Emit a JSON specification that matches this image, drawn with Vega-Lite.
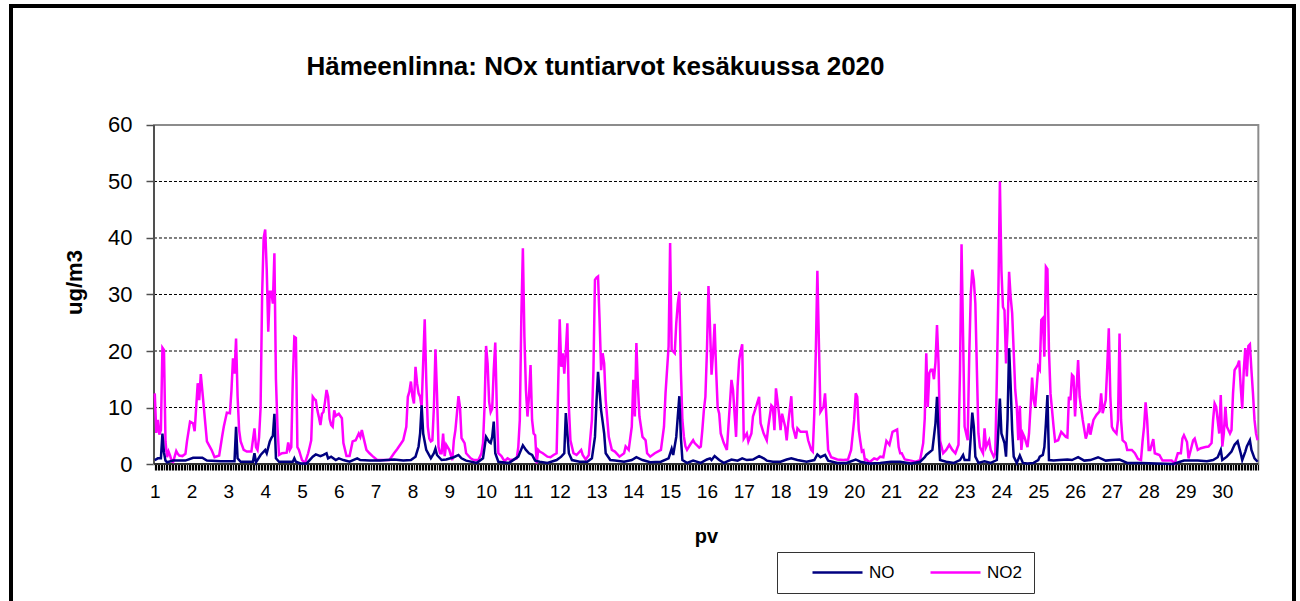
{
"$schema": "https://vega.github.io/schema/vega-lite/v6.json",
"width": 1283,
"height": 597,
"autosize": {"type": "none"},
"padding": {"left": 11, "top": 6, "right": 6, "bottom": 0},
"background": "white",
"config": {"view": {"stroke": "black", "strokeWidth": 4}, "font": "Liberation Sans"},
"title": {"text": "Hämeenlinna: NOx tuntiarvot kesäkuussa 2020", "font": "Liberation Sans", "fontSize": 26, "fontWeight": "bold", "color": "black", "anchor": "middle", "offset": -95, "baseline": "alphabetic", "dx": -57},
"datasets": {
"grid": [{"g": 10}, {"g": 20}, {"g": 30}, {"g": 40}, {"g": 50}],
"no2": [
{"h":0,"v":12.5},{"h":1,"v":5.5},{"h":2,"v":7.8},{"h":3,"v":5.2},{"h":4,"v":6},{"h":5,"v":20.6},{"h":6,"v":20.2},{"h":7,"v":4},{"h":8,"v":1.2},{"h":9,"v":2.2},{"h":10,"v":1.5},{"h":11,"v":0.5},{"h":12,"v":0.4},{"h":14,"v":2.3},{"h":15,"v":1.8},{"h":16,"v":1.5},{"h":18,"v":1.4},{"h":20,"v":1.8},{"h":21,"v":4},{"h":23,"v":7.5},{"h":25,"v":7.2},{"h":26,"v":5.8},{"h":28,"v":14.3},{"h":29,"v":11.3},{"h":30,"v":15.9},{"h":31,"v":13},{"h":33,"v":7},{"h":34,"v":4},{"h":37,"v":2.5},{"h":39,"v":1.2},{"h":42,"v":1.5},{"h":44,"v":5},{"h":45,"v":6.6},{"h":47,"v":9.1},{"h":49,"v":9},{"h":50,"v":13},{"h":51,"v":18.7},{"h":52,"v":16},{"h":53,"v":22.2},{"h":54,"v":12},{"h":55,"v":6},{"h":56,"v":4},{"h":58,"v":2.5},{"h":60,"v":2.2},{"h":63,"v":2.2},{"h":65,"v":6.3},{"h":66,"v":3},{"h":67,"v":2.5},{"h":68,"v":4.7},{"h":69,"v":10},{"h":70,"v":30},{"h":71,"v":40},{"h":72,"v":41.5},{"h":73,"v":34.4},{"h":74,"v":23.4},{"h":75,"v":30.5},{"h":76,"v":30.5},{"h":77,"v":28.4},{"h":78,"v":37.3},{"h":79,"v":15},{"h":80,"v":6.6},{"h":81,"v":1.6},{"h":83,"v":1.9},{"h":86,"v":2},{"h":87,"v":3.8},{"h":88,"v":2.5},{"h":89,"v":3},{"h":90,"v":15},{"h":91,"v":22.5},{"h":92,"v":22.3},{"h":93,"v":3},{"h":94,"v":2.5},{"h":96,"v":0.7},{"h":98,"v":0.2},{"h":100,"v":1.9},{"h":101,"v":3},{"h":102,"v":4.2},{"h":103,"v":11.9},{"h":104,"v":11.5},{"h":105,"v":11.3},{"h":106,"v":9.5},{"h":107,"v":8.3},{"h":108,"v":6.9},{"h":109,"v":8.9},{"h":110,"v":9.2},
{"h":111,"v":11},{"h":112,"v":13.1},{"h":113,"v":11.9},{"h":114,"v":8},{"h":115,"v":6.9},{"h":116,"v":6.6},{"h":117,"v":9.5},{"h":118,"v":8.5},{"h":119,"v":8.7},{"h":120,"v":8.9},{"h":122,"v":8.1},{"h":123,"v":3.7},{"h":125,"v":1.4},{"h":127,"v":1.4},{"h":129,"v":4},{"h":131,"v":4.2},{"h":133,"v":5.4},{"h":134,"v":4.8},{"h":135,"v":6},{"h":136,"v":4.8},{"h":138,"v":2.5},{"h":140,"v":1.9},{"h":142,"v":1.4},{"h":145,"v":0.7},{"h":148,"v":0.7},{"h":151,"v":0.7},{"h":153,"v":0.7},{"h":156,"v":1.9},{"h":158,"v":2.6},{"h":160,"v":3.4},{"h":162,"v":4.2},{"h":164,"v":6.6},{"h":165,"v":11.9},{"h":166,"v":12.8},{"h":167,"v":14.6},{"h":168,"v":12},{"h":169,"v":10.7},{"h":170,"v":17.2},{"h":171,"v":14.3},{"h":172,"v":12.5},{"h":173,"v":11.9},{"h":174,"v":10.1},{"h":175,"v":18},{"h":176,"v":25.6},{"h":177,"v":14.9},{"h":178,"v":6.6},{"h":179,"v":4.5},{"h":180,"v":4},{"h":181,"v":4.2},{"h":182,"v":10.1},{"h":183,"v":20.3},{"h":184,"v":12.5},{"h":185,"v":3},{"h":186,"v":1.9},{"h":187,"v":1.9},{"h":188,"v":5.4},{"h":189,"v":1.4},{"h":190,"v":3.4},{"h":192,"v":2.5},{"h":194,"v":0.7},{"h":195,"v":4.2},{"h":196,"v":6},{"h":197,"v":8.9},{"h":198,"v":12},{"h":199,"v":10.1},{"h":200,"v":4.6},{"h":202,"v":3.7},{"h":203,"v":1.9},{"h":206,"v":1},{"h":208,"v":0.7},{"h":211,"v":0.7},{"h":213,"v":1.9},{"h":214,"v":3.7},{"h":215,"v":10.1},{"h":216,"v":20.9},{"h":217,"v":17.8},{"h":218,"v":11},{"h":219,"v":9.2},{"h":220,"v":9.8},{"h":221,"v":16.6},{"h":222,"v":21.5},{"h":223,"v":10.1},{"h":224,"v":1.9},{"h":226,"v":1.4},{"h":228,"v":0.5},{"h":230,"v":1},
{"h":232,"v":0.7},{"h":234,"v":0.8},{"h":236,"v":1},{"h":237,"v":3},{"h":238,"v":7.8},{"h":239,"v":26.1},{"h":240,"v":38.2},{"h":241,"v":22.5},{"h":242,"v":13.1},{"h":243,"v":8.4},{"h":244,"v":12},{"h":245,"v":17.5},{"h":246,"v":7.8},{"h":247,"v":5.4},{"h":248,"v":5.1},{"h":249,"v":0.1},{"h":250,"v":2.5},{"h":251,"v":2.2},{"h":253,"v":1.9},{"h":256,"v":1.3},{"h":258,"v":1.2},{"h":260,"v":1.6},{"h":262,"v":1.9},{"h":263,"v":13.7},{"h":264,"v":25.6},{"h":265,"v":17.2},{"h":266,"v":19.6},{"h":267,"v":16},{"h":268,"v":20},{"h":269,"v":24.9},{"h":270,"v":10.1},{"h":271,"v":4.2},{"h":273,"v":1.9},{"h":275,"v":1.6},{"h":278,"v":2.5},{"h":279,"v":1.6},{"h":281,"v":0.8},{"h":283,"v":1.6},{"h":285,"v":7.8},{"h":286,"v":16.6},{"h":287,"v":32.6},{"h":288,"v":33},{"h":289,"v":33.2},{"h":290,"v":25.5},{"h":291,"v":16.6},{"h":292,"v":19.6},{"h":293,"v":17.8},{"h":294,"v":11.3},{"h":296,"v":4.8},{"h":298,"v":2.5},{"h":300,"v":2.2},{"h":303,"v":1.3},{"h":306,"v":1.9},{"h":307,"v":3.1},{"h":309,"v":2.5},{"h":311,"v":6.6},{"h":312,"v":14.9},{"h":313,"v":8.4},{"h":314,"v":21.4},{"h":315,"v":13.7},{"h":316,"v":8.4},{"h":318,"v":4.8},{"h":320,"v":4.2},{"h":321,"v":1.9},{"h":323,"v":1.3},{"h":326,"v":1.9},{"h":330,"v":2.5},{"h":332,"v":6.6},{"h":333,"v":12.5},{"h":335,"v":20.8},{"h":336,"v":39.1},{"h":337,"v":20.2},{"h":339,"v":19.6},{"h":340,"v":24.9},{"h":341,"v":28.4},{"h":342,"v":30.5},{"h":343,"v":16.6},{"h":344,"v":7.8},{"h":345,"v":4.8},
{"h":346,"v":3.1},{"h":347,"v":2.5},{"h":349,"v":3.4},{"h":351,"v":4.2},{"h":352,"v":3.7},{"h":355,"v":2.9},{"h":356,"v":3.1},{"h":357,"v":6},{"h":358,"v":9.5},{"h":359,"v":11.9},{"h":360,"v":20},{"h":361,"v":31.5},{"h":362,"v":24.3},{"h":363,"v":15.8},{"h":364,"v":19.6},{"h":365,"v":24.8},{"h":366,"v":16.6},{"h":367,"v":10},{"h":368,"v":8.9},{"h":369,"v":5.4},{"h":371,"v":3.7},{"h":373,"v":2.5},{"h":374,"v":6.6},{"h":376,"v":14.9},{"h":377,"v":13.1},{"h":379,"v":4.8},{"h":380,"v":13.7},{"h":381,"v":18.4},{"h":382,"v":20},{"h":383,"v":21.2},{"h":384,"v":4.5},{"h":386,"v":5.4},{"h":387,"v":4},{"h":389,"v":5.4},{"h":390,"v":8.4},{"h":392,"v":10.1},{"h":394,"v":11.9},{"h":395,"v":7.2},{"h":397,"v":5.4},{"h":399,"v":4.2},{"h":400,"v":6.6},{"h":402,"v":10.4},{"h":403,"v":10.1},{"h":404,"v":6},{"h":405,"v":13.4},{"h":407,"v":8.9},{"h":408,"v":6},{"h":409,"v":8.9},{"h":411,"v":6.6},{"h":412,"v":4.2},{"h":413,"v":7.2},{"h":415,"v":12},{"h":416,"v":6.6},{"h":418,"v":4.5},{"h":419,"v":6.3},{"h":421,"v":5.7},{"h":423,"v":5.7},{"h":425,"v":5.7},{"h":426,"v":4.2},{"h":428,"v":2.5},{"h":429,"v":2.2},{"h":430,"v":8.9},{"h":431,"v":20},{"h":432,"v":34.2},{"h":433,"v":21.4},{"h":434,"v":9.2},{"h":436,"v":10.1},{"h":437,"v":12.5},{"h":438,"v":7.8},{"h":439,"v":2.5},{"h":441,"v":1.2},{"h":445,"v":0.8},{"h":449,"v":0.7},{"h":452,"v":0.8},{"h":454,"v":2.5},{"h":456,"v":7.8},{"h":457,"v":12.5},{"h":458,"v":11.9},{"h":459,"v":6},{"h":460,"v":4},
{"h":461,"v":2.2},{"h":462,"v":2.4},{"h":463,"v":0.7},{"h":464,"v":0.8},{"h":466,"v":0.3},{"h":469,"v":1},{"h":471,"v":0.8},{"h":473,"v":1.3},{"h":475,"v":1.2},{"h":477,"v":4.1},{"h":479,"v":3.4},{"h":481,"v":5.7},{"h":484,"v":6.1},{"h":485,"v":3},{"h":486,"v":1.9},{"h":487,"v":1.9},{"h":489,"v":0.8},{"h":493,"v":0.6},{"h":496,"v":0.4},{"h":499,"v":0.7},{"h":501,"v":3.7},{"h":502,"v":8},{"h":503,"v":19.6},{"h":504,"v":10.1},{"h":505,"v":16.1},{"h":506,"v":16.7},{"h":507,"v":16.7},{"h":508,"v":15},{"h":509,"v":18},{"h":510,"v":24.6},{"h":511,"v":17.8},{"h":512,"v":4.1},{"h":514,"v":1.9},{"h":516,"v":2.5},{"h":518,"v":3.4},{"h":520,"v":2.5},{"h":522,"v":1.9},{"h":524,"v":3.4},{"h":525,"v":16.7},{"h":526,"v":38.9},{"h":527,"v":22.5},{"h":528,"v":6.6},{"h":530,"v":4.2},{"h":531,"v":19},{"h":532,"v":30},{"h":533,"v":34.4},{"h":534,"v":32.5},{"h":535,"v":28.4},{"h":536,"v":16.7},{"h":537,"v":5.4},{"h":538,"v":3},{"h":540,"v":1.9},{"h":541,"v":6.3},{"h":542,"v":3},{"h":544,"v":4.2},{"h":545,"v":2.5},{"h":547,"v":1.3},{"h":548,"v":1.9},{"h":549,"v":15},{"h":550,"v":30},{"h":551,"v":50},{"h":552,"v":34.3},{"h":553,"v":27.8},{"h":554,"v":27.2},{"h":555,"v":17.8},{"h":556,"v":23.7},{"h":557,"v":34},{"h":558,"v":29.6},{"h":559,"v":26.7},{"h":561,"v":13.1},{"h":562,"v":10.2},{"h":563,"v":4.2},{"h":564,"v":10.3},{"h":565,"v":2.5},{"h":566,"v":5.4},{"h":567,"v":4.8},{"h":569,"v":3},{"h":570,"v":5.4},{"h":571,"v":10.1},{"h":572,"v":15.3},{"h":573,"v":11.3},{"h":574,"v":10.1},{"h":576,"v":17.2},{"h":577,"v":16.7},{"h":578,"v":25.5},{"h":579,"v":25.8},{"h":580,"v":19},{"h":581,"v":34.9},{"h":582,"v":34.5},{"h":583,"v":20},{"h":584,"v":12.5},
{"h":586,"v":6.6},{"h":587,"v":4},{"h":589,"v":4.2},{"h":591,"v":5.7},{"h":594,"v":4.8},{"h":595,"v":4.7},{"h":596,"v":11.9},{"h":597,"v":11.3},{"h":598,"v":15.8},{"h":599,"v":15.5},{"h":600,"v":8.4},{"h":602,"v":18.4},{"h":603,"v":11.9},{"h":605,"v":7.8},{"h":607,"v":4.5},{"h":608,"v":5.4},{"h":609,"v":7.2},{"h":610,"v":5.2},{"h":612,"v":7.8},{"h":614,"v":8.7},{"h":616,"v":9.3},{"h":617,"v":12.5},{"h":618,"v":9},{"h":620,"v":11.3},{"h":621,"v":17.2},{"h":622,"v":24},{"h":623,"v":12},{"h":624,"v":6.6},{"h":625,"v":6},{"h":627,"v":5.4},{"h":628,"v":7.8},{"h":629,"v":23.1},{"h":630,"v":7.8},{"h":631,"v":4.2},{"h":633,"v":3.7},{"h":634,"v":2.5},{"h":637,"v":2.5},{"h":639,"v":1.9},{"h":641,"v":0.9},{"h":643,"v":0.7},{"h":644,"v":4},{"h":645,"v":6.6},{"h":646,"v":10.9},{"h":647,"v":7.8},{"h":648,"v":2.5},{"h":649,"v":2.5},{"h":651,"v":4.4},{"h":652,"v":1.9},{"h":655,"v":1.6},{"h":657,"v":0.6},{"h":660,"v":0.6},{"h":663,"v":0.6},{"h":665,"v":0.1},{"h":667,"v":1.9},{"h":669,"v":1.9},{"h":670,"v":4.5},{"h":671,"v":5.1},{"h":673,"v":3.9},{"h":674,"v":1},{"h":676,"v":3.1},{"h":677,"v":4.2},{"h":678,"v":4.5},{"h":680,"v":2.5},{"h":682,"v":2.8},{"h":685,"v":3},{"h":687,"v":3.1},{"h":689,"v":3.7},{"h":690,"v":7.8},{"h":691,"v":10.7},{"h":692,"v":10.1},{"h":694,"v":5.4},{"h":695,"v":12.2},{"h":696,"v":3.1},{"h":697,"v":5.4},{"h":698,"v":10.1},{"h":699,"v":6.6},{"h":701,"v":5.4},{"h":702,"v":6},{"h":703,"v":12.5},{"h":704,"v":16.6},{"h":706,"v":17.5},{"h":707,"v":18.3},{"h":708,"v":13.7},{"h":709,"v":9.8},{"h":710,"v":16.6},{"h":711,"v":20.5},{"h":712,"v":15.5},{"h":713,"v":20.9},{"h":714,"v":21.2},{"h":715,"v":16.6},{"h":716,"v":12.5},{"h":717,"v":7.8},{"h":718,"v":5.4},{"h":719,"v":4.2}
],
"no": [
{"h":0,"v":0.7},{"h":2,"v":1},{"h":4,"v":1},{"h":5,"v":5.4},{"h":6,"v":2},{"h":7,"v":0.6},{"h":8,"v":0.3},{"h":12,"v":0.6},{"h":20,"v":0.6},{"h":25,"v":1.1},{"h":31,"v":1.1},{"h":34,"v":0.6},{"h":43,"v":0.5},{"h":52,"v":0.5},{"h":53,"v":6.6},{"h":54,"v":1},{"h":56,"v":0.4},{"h":64,"v":0.4},{"h":65,"v":1.9},{"h":66,"v":0.3},{"h":69,"v":1.6},{"h":72,"v":2.5},{"h":73,"v":1.9},{"h":75,"v":4},{"h":76,"v":4.6},{"h":77,"v":5},{"h":78,"v":8.9},{"h":79,"v":1},{"h":81,"v":0.4},{"h":90,"v":0.4},{"h":91,"v":1},{"h":92,"v":0.4},{"h":95,"v":0.1},{"h":99,"v":0.1},{"h":101,"v":0.7},{"h":103,"v":1.3},{"h":105,"v":1.7},{"h":108,"v":1.4},{"h":110,"v":1.6},{"h":112,"v":1.9},{"h":113,"v":1},{"h":115,"v":1.3},{"h":118,"v":0.7},{"h":120,"v":1},{"h":123,"v":0.7},{"h":127,"v":0.4},{"h":132,"v":1},{"h":134,"v":0.7},{"h":140,"v":0.6},{"h":147,"v":0.6},{"h":156,"v":0.8},{"h":162,"v":0.6},{"h":167,"v":0.7},{"h":170,"v":1.3},{"h":172,"v":3.1},{"h":173,"v":5.4},{"h":174,"v":10.4},{"h":175,"v":5.4},{"h":177,"v":2.5},{"h":180,"v":1},{"h":182,"v":1.9},{"h":183,"v":2.7},{"h":184,"v":1.6},{"h":187,"v":0.7},{"h":190,"v":0.8},{"h":195,"v":1.2},{"h":198,"v":1.6},{"h":200,"v":1},{"h":203,"v":0.6},{"h":210,"v":0.2},{"h":214,"v":1},{"h":216,"v":4.8},{"h":218,"v":3.9},{"h":219,"v":3.7},{"h":220,"v":4.8},{"h":221,"v":7.5},{"h":222,"v":1.9},{"h":224,"v":0.4},{"h":231,"v":0.2},{"h":237,"v":1.3},{"h":240,"v":3.3},{"h":242,"v":2.5},{"h":244,"v":1.9},{"h":246,"v":1.6},{"h":248,"v":0.6},{"h":251,"v":0.4},{"h":256,"v":0.2},{"h":262,"v":0.7},{"h":265,"v":1.3},{"h":267,"v":1.9},{"h":268,"v":9},{"h":270,"v":1.9},{"h":272,"v":0.7},{"h":277,"v":0.4},{"h":282,"v":0.4},{"h":285,"v":1},{"h":287,"v":4.8},{"h":288,"v":11},{"h":289,"v":16.3},{"h":291,"v":9.5},{"h":292,"v":7.5},{"h":293,"v":5.4},{"h":294,"v":1.9},{"h":297,"v":0.7},{"h":300,"v":0.6},{"h":306,"v":0.4},{"h":311,"v":0.7},{"h":314,"v":1.2},{"h":318,"v":0.7},{"h":323,"v":0.3},{"h":330,"v":0.4},{"h":335,"v":1},{"h":337,"v":2.7},{"h":338,"v":1.6},{"h":340,"v":4.8},{"h":342,"v":12},{"h":343,"v":4.8},{"h":344,"v":0.7},{"h":347,"v":0.2},{"h":351,"v":0.6},{"h":356,"v":0.2},{"h":360,"v":0.8},{"h":362,"v":1},{"h":363,"v":0.7},{"h":365,"v":1.4},{"h":368,"v":0.7},{"h":371,"v":0.2},{"h":376,"v":0.8},{"h":380,"v":0.6},{"h":383,"v":1},{"h":386,"v":0.7},{"h":390,"v":0.8},{"h":394,"v":1.4},{"h":397,"v":1},{"h":399,"v":0.6},{"h":403,"v":0.4},{"h":408,"v":0.4},{"h":412,"v":0.8},{"h":415,"v":1},{"h":419,"v":0.7},{"h":425,"v":0.4},{"h":430,"v":0.7},{"h":432,"v":1.7},{"h":434,"v":1.2},{"h":437,"v":1.6},{"h":439,"v":0.6},{"h":445,"v":0.2},{"h":451,"v":0.2},{"h":457,"v":0.8},{"h":460,"v":0.4},{"h":466,"v":0.1},{"h":473,"v":0.2},{"h":480,"v":0.4},{"h":486,"v":0.4},{"h":493,"v":0.1},{"h":499,"v":0.4},{"h":502,"v":1.2},{"h":503,"v":1.6},{"h":507,"v":2.5},{"h":509,"v":7.2},{"h":510,"v":11.9},{"h":511,"v":5.5},{"h":512,"v":0.7},{"h":516,"v":0.4},{"h":521,"v":0.2},{"h":525,"v":0.7},{"h":527,"v":1.6},{"h":528,"v":0.7},{"h":531,"v":0.7},{"h":532,"v":4.8},{"h":533,"v":9.1},{"h":534,"v":6.6},{"h":535,"v":1.3},{"h":537,"v":0.2},{"h":541,"v":0.5},{"h":545,"v":0.2},{"h":549,"v":0.7},{"h":550,"v":6},{"h":551,"v":11.6},{"h":552,"v":5.4},{"h":554,"v":3.7},{"h":555,"v":1.3},{"h":556,"v":8},{"h":557,"v":20.5},{"h":558,"v":14},{"h":559,"v":6},{"h":560,"v":1.3},{"h":562,"v":0.2},{"h":564,"v":1.5},{"h":566,"v":0.2},{"h":569,"v":0.1},{"h":573,"v":0.2},{"h":576,"v":0.7},{"h":577,"v":1.3},{"h":579,"v":1.6},{"h":580,"v":3},{"h":581,"v":7.2},{"h":582,"v":12.2},{"h":583,"v":0.7},{"h":586,"v":0.6},{"h":590,"v":0.7},{"h":595,"v":0.8},{"h":598,"v":0.7},{"h":602,"v":1.2},{"h":606,"v":0.6},{"h":610,"v":0.7},{"h":615,"v":1.2},{"h":620,"v":0.6},{"h":624,"v":0.7},{"h":629,"v":0.8},{"h":634,"v":0.2},{"h":643,"v":0.2},{"h":653,"v":0.1},{"h":664,"v":0},{"h":671,"v":0.6},{"h":680,"v":0.6},{"h":686,"v":0.5},{"h":690,"v":0.7},{"h":693,"v":1.2},{"h":695,"v":2.5},{"h":696,"v":0.7},{"h":699,"v":1.3},{"h":702,"v":2.2},{"h":704,"v":3.4},{"h":706,"v":4},{"h":708,"v":1.9},{"h":709,"v":0.7},{"h":711,"v":2.2},{"h":712,"v":3.1},{"h":714,"v":4.2},{"h":715,"v":2.5},{"h":717,"v":1},{"h":719,"v":0.4}
]
},
"resolve": {"axis": {"x": "independent", "y": "independent"}},
"layer": [
{
"data": {"name": "grid"},
"mark": {"type": "rule", "color": "black", "strokeWidth": 1, "strokeDash": [3, 2]},
"encoding": {
"x": {"datum": -0.5, "type": "quantitative", "scale": {"domain": [-93.73, 742.75], "nice": false, "zero": false}, "axis": null},
"x2": {"datum": 719.5},
"y": {"field": "g", "type": "quantitative", "scale": {"domain": [-24.6, 81.06], "nice": false, "zero": false}, "axis": null}
}
},
{
"data": {"values": [{}]},
"mark": {"type": "rect", "filled": false, "stroke": "#8c8c8c", "strokeWidth": 2},
"encoding": {
"x": {"datum": -0.5, "type": "quantitative", "axis": null},
"x2": {"datum": 719.5},
"y": {"datum": 0, "type": "quantitative", "axis": null},
"y2": {"datum": 60}
}
},
{
"data": {"values": [{}]},
"mark": {"type": "rule", "color": "#505050", "strokeWidth": 2},
"encoding": {
"x": {"datum": -0.5, "type": "quantitative", "axis": null},
"y": {"datum": 0, "type": "quantitative", "axis": null},
"y2": {"datum": 60}
}
},
{
"data": {"values": [{}]},
"mark": {"type": "rule", "color": "#303030", "strokeWidth": 2},
"encoding": {
"x": {"datum": -0.5, "type": "quantitative", "axis": null},
"x2": {"datum": 719.5},
"y": {"datum": 0, "type": "quantitative", "axis": null}
}
},
{
"data": {"name": "no2"},
"mark": {"type": "line", "strokeWidth": 2.5},
"encoding": {
"x": {"field": "h", "type": "quantitative", "scale": {"domain": [-93.73, 742.75], "nice": false, "zero": false},
"axis": {"orient": "bottom", "offset": -139, "domain": false, "grid": false, "labels": false, "ticks": true, "tickSize": 6, "tickWidth": 1.2, "tickColor": "black", "title": null,
"values": [0,1,2,3,4,5,6,7,8,9,10,11,12,13,14,15,16,17,18,19,20,21,22,23,24,25,26,27,28,29,30,31,32,33,34,35,36,37,38,39,40,41,42,43,44,45,46,47,48,49,50,51,52,53,54,55,56,57,58,59,60,61,62,63,64,65,66,67,68,69,70,71,72,73,74,75,76,77,78,79,80,81,82,83,84,85,86,87,88,89,90,91,92,93,94,95,96,97,98,99,100,101,102,103,104,105,106,107,108,109,110,111,112,113,114,115,116,117,118,119,120,121,122,123,124,125,126,127,128,129,130,131,132,133,134,135,136,137,138,139,140,141,142,143,144,145,146,147,148,149,150,151,152,153,154,155,156,157,158,159,160,161,162,163,164,165,166,167,168,169,170,171,172,173,174,175,176,177,178,179,180,181,182,183,184,185,186,187,188,189,190,191,192,193,194,195,196,197,198,199,200,201,202,203,204,205,206,207,208,209,210,211,212,213,214,215,216,217,218,219,220,221,222,223,224,225,226,227,228,229,230,231,232,233,234,235,236,237,238,239,240,241,242,243,244,245,246,247,248,249,250,251,252,253,254,255,256,257,258,259,260,261,262,263,264,265,266,267,268,269,270,271,272,273,274,275,276,277,278,279,280,281,282,283,284,285,286,287,288,289,290,291,292,293,294,295,296,297,298,299,300,301,302,303,304,305,306,307,308,309,310,311,312,313,314,315,316,317,318,319,320,321,322,323,324,325,326,327,328,329,330,331,332,333,334,335,336,337,338,339,340,341,342,343,344,345,346,347,348,349,350,351,352,353,354,355,356,357,358,359,360,361,362,363,364,365,366,367,368,369,370,371,372,373,374,375,376,377,378,379,380,381,382,383,384,385,386,387,388,389,390,391,392,393,394,395,396,397,398,399,400,401,402,403,404,405,406,407,408,409,410,411,412,413,414,415,416,417,418,419,420,421,422,423,424,425,426,427,428,429,430,431,432,433,434,435,436,437,438,439,440,441,442,443,444,445,446,447,448,449,450,451,452,453,454,455,456,457,458,459,460,461,462,463,464,465,466,467,468,469,470,471,472,473,474,475,476,477,478,479,480,481,482,483,484,485,486,487,488,489,490,491,492,493,494,495,496,497,498,499,500,501,502,503,504,505,506,507,508,509,510,511,512,513,514,515,516,517,518,519,520,521,522,523,524,525,526,527,528,529,530,531,532,533,534,535,536,537,538,539,540,541,542,543,544,545,546,547,548,549,550,551,552,553,554,555,556,557,558,559,560,561,562,563,564,565,566,567,568,569,570,571,572,573,574,575,576,577,578,579,580,581,582,583,584,585,586,587,588,589,590,591,592,593,594,595,596,597,598,599,600,601,602,603,604,605,606,607,608,609,610,611,612,613,614,615,616,617,618,619,620,621,622,623,624,625,626,627,628,629,630,631,632,633,634,635,636,637,638,639,640,641,642,643,644,645,646,647,648,649,650,651,652,653,654,655,656,657,658,659,660,661,662,663,664,665,666,667,668,669,670,671,672,673,674,675,676,677,678,679,680,681,682,683,684,685,686,687,688,689,690,691,692,693,694,695,696,697,698,699,700,701,702,703,704,705,706,707,708,709,710,711,712,713,714,715,716,717,718,719]}},
"y": {"field": "v", "type": "quantitative", "scale": {"domain": [-24.6, 81.06], "nice": false, "zero": false},
"axis": {"orient": "left", "values": [0, 10, 20, 30, 40, 50, 60], "offset": -143, "domain": false, "grid": false, "ticks": true, "tickSize": 8, "tickWidth": 1.5, "tickColor": "#505050", "labelFont": "Liberation Sans", "labelFontSize": 22, "labelColor": "black", "labelPadding": 14, "title": "ug/m3", "titleFont": "Liberation Sans", "titleFontSize": 22, "titleFontWeight": "bold", "titleColor": "black", "titleAngle": -90, "titleX": -80, "titleY": 276, "titleAlign": "center", "titleBaseline": "middle"}},
"color": {"datum": "NO2", "scale": {"domain": ["NO", "NO2"], "range": ["#000080", "#FF00FF"]},
"legend": {"title": null, "orient": "none", "legendX": 766, "legendY": 546, "direction": "horizontal", "strokeColor": "#333333", "padding": 12, "clipHeight": 17, "symbolType": "stroke", "symbolSize": 2500, "symbolStrokeWidth": 2.5, "symbolOffset": 22, "labelOffset": 5, "columnPadding": 3, "gridAlign": "all", "labelFont": "Liberation Sans", "labelFontSize": 17, "labelColor": "black"}}
}
},
{
"data": {"name": "no"},
"mark": {"type": "line", "strokeWidth": 2.5},
"encoding": {
"x": {"field": "h", "type": "quantitative", "scale": {"domain": [-93.73, 742.75], "nice": false, "zero": false},
"axis": {"orient": "bottom", "offset": -139, "domain": false, "grid": false, "ticks": false, "tickSize": 0, "values": [0,24,48,72,96,120,144,168,192,216,240,264,288,312,336,360,384,408,432,456,480,504,528,552,576,600,624,648,672,696], "labelExpr": "'' + (datum.value / 24 + 1)", "labelFont": "Liberation Sans", "labelFontSize": 19, "labelColor": "black", "labelBaseline": "alphabetic", "labelPadding": 33, "labelOverlap": false, "labelFlush": false, "title": "pv", "titleFont": "Liberation Sans", "titleFontSize": 20, "titleFontWeight": "bold", "titleColor": "black", "titleX": 695, "titleY": 78, "titleBaseline": "alphabetic", "titleAlign": "center"}},
"y": {"field": "v", "type": "quantitative", "scale": {"domain": [-24.6, 81.06], "nice": false, "zero": false}, "axis": null},
"color": {"datum": "NO",
"legend": {"title": null, "orient": "none", "legendX": 766, "legendY": 546, "direction": "horizontal", "strokeColor": "#333333", "padding": 12, "clipHeight": 17, "symbolType": "stroke", "symbolSize": 2500, "symbolStrokeWidth": 2.5, "symbolOffset": 22, "labelOffset": 5, "columnPadding": 3, "gridAlign": "all", "labelFont": "Liberation Sans", "labelFontSize": 17, "labelColor": "black"}}
}
}
]
}
